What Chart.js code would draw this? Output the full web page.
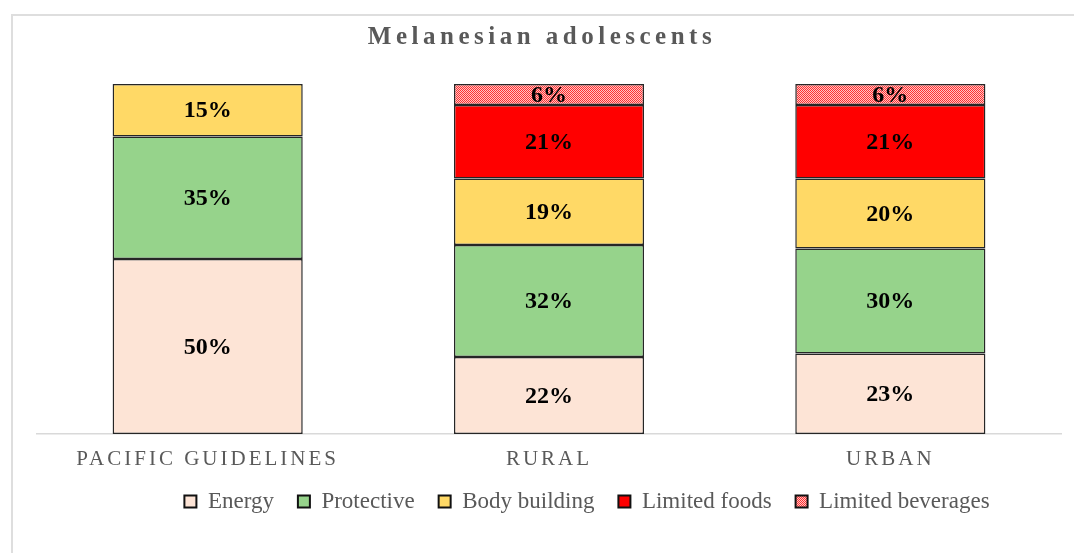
<!DOCTYPE html>
<html>
<head>
<meta charset="utf-8">
<script src="https://cdn.jsdelivr.net/npm/chart.js@4.4.1/dist/chart.umd.min.js"></script>
<style>
    html, body { margin: 0; padding: 0; background: #fff; overflow: hidden; }
    #wrap { position: relative; width: 1074px; height: 553px; overflow: hidden; }
    #frame { position: absolute; left: 11px; top: 14px; width: 1200px; height: 700px; border: 2px solid #dedede; }
    #chart { position: absolute; left: 0; top: 0; }
</style>
</head>
<body>
<div id="wrap">
    <div id="frame"></div>
    <canvas id="chart" width="1074" height="553"></canvas>
</div>
<script>
const categories = ['PACIFIC GUIDELINES', 'RURAL', 'URBAN'];
const seriesNames = ['Energy', 'Protective', 'Body building', 'Limited foods', 'Limited beverages'];
const energy = [50, 22, 23];
const protective = [35, 32, 30];
const bodyBuilding = [15, 19, 20];
const limitedFoods = [null, 21, 21];
const limitedBeverages = [null, 6, 6];

const serif = '"Liberation Serif", "Times New Roman", serif';

var ctx = document.getElementById('chart').getContext('2d');

// fine red/pink checker like the excel pattern fill
function checker() {
    const p = document.createElement('canvas');
    p.width = 2;
    p.height = 2;
    const g = p.getContext('2d');
    g.fillStyle = '#ffc4c4';
    g.fillRect(0, 0, 2, 2);
    g.fillStyle = '#ff3030';
    g.fillRect(0, 0, 1, 1);
    g.fillRect(1, 1, 1, 1);
    return ctx.createPattern(p, 'repeat');
}

const fills = ['#fde4d6', '#96d38b', '#ffd966', '#ff0000', checker()];
const values = [energy, protective, bodyBuilding, limitedFoods, limitedBeverages];

// wraps a draw method so its text gets letter spacing
function spaced(obj, fn, sp, dx) {
    if (!obj || obj['_sp_' + fn]) return;
    const orig = obj[fn];
    obj[fn] = function () {
        const c = this.ctx;
        c.save();
        c.letterSpacing = sp;
        c.translate(dx, 0);
        orig.apply(this, arguments);
        c.restore();
    };
    obj['_sp_' + fn] = true;
}

const spacing = {
    id: 'spacing',
    afterLayout(chart) {
        const lg = chart.legend;
        lg.left += 38;
        lg.right += 38;
    },
    beforeDraw(chart) {
        spaced(chart.titleBlock, 'draw', '4.5px', -7);
        spaced(chart.scales.x, 'drawLabels', '3px', 0);
    }
};

const barLabels = {
    id: 'barLabels',
    afterDatasetsDraw(chart) {
        const c = chart.ctx;
        c.save();
        c.font = 'bold 24px ' + serif;
        c.fillStyle = '#000';
        c.textAlign = 'center';
        c.textBaseline = 'middle';
        chart.data.datasets.forEach(function (ds, i) {
            chart.getDatasetMeta(i).data.forEach(function (bar, j) {
                const v = ds.data[j];
                if (v == null) return;
                const p = bar.getProps(['x', 'y', 'base'], true);
                c.fillText(v + '%', p.x, (p.y + p.base) / 2 + 1);
            });
        });
        c.restore();
    }
};

var data = {
    labels: categories,
    datasets: seriesNames.map(function (name, i) {
        return {
            label: name,
            data: values[i],
            backgroundColor: fills[i],
            borderColor: '#262626',
            borderWidth: 1.5,
            borderSkipped: false,
            barPercentage: 0.557,
            categoryPercentage: 1
        };
    })
};

var stackChart = new Chart(ctx, {
    type: 'bar',
    data: data,
    plugins: [spacing, barLabels],
    options: {
        responsive: false,
        animation: false,
        layout: {
            padding: { left: 37, right: 13, top: 0, bottom: 30 }
        },
        scales: {
            x: {
                stacked: true,
                grid: { display: false, drawTicks: false },
                border: { display: true, color: '#d9d9d9', width: 1.5 },
                ticks: {
                    color: '#595959',
                    padding: 13,
                    font: { family: serif, size: 21 }
                },
                afterFit: function (scale) { scale.height = 32; }
            },
            y: {
                stacked: true,
                display: false,
                min: 0,
                max: 100
            }
        },
        plugins: {
            title: {
                display: true,
                text: 'Melanesian adolescents',
                color: '#595959',
                font: { family: serif, size: 25, weight: 'bold' },
                padding: { top: 23, bottom: 31 }
            },
            legend: {
                position: 'bottom',
                labels: {
                    color: '#595959',
                    font: { family: serif, size: 23 },
                    boxWidth: 12,
                    boxHeight: 12,
                    padding: 24,
                    generateLabels: function (chart) {
                        return Chart.defaults.plugins.legend.labels.generateLabels(chart).map(function (l) {
                            l.lineWidth = 2;
                            l.strokeStyle = '#111';
                            return l;
                        });
                    }
                }
            },
            tooltip: { enabled: false }
        }
    }
});
</script>
</body>
</html>
